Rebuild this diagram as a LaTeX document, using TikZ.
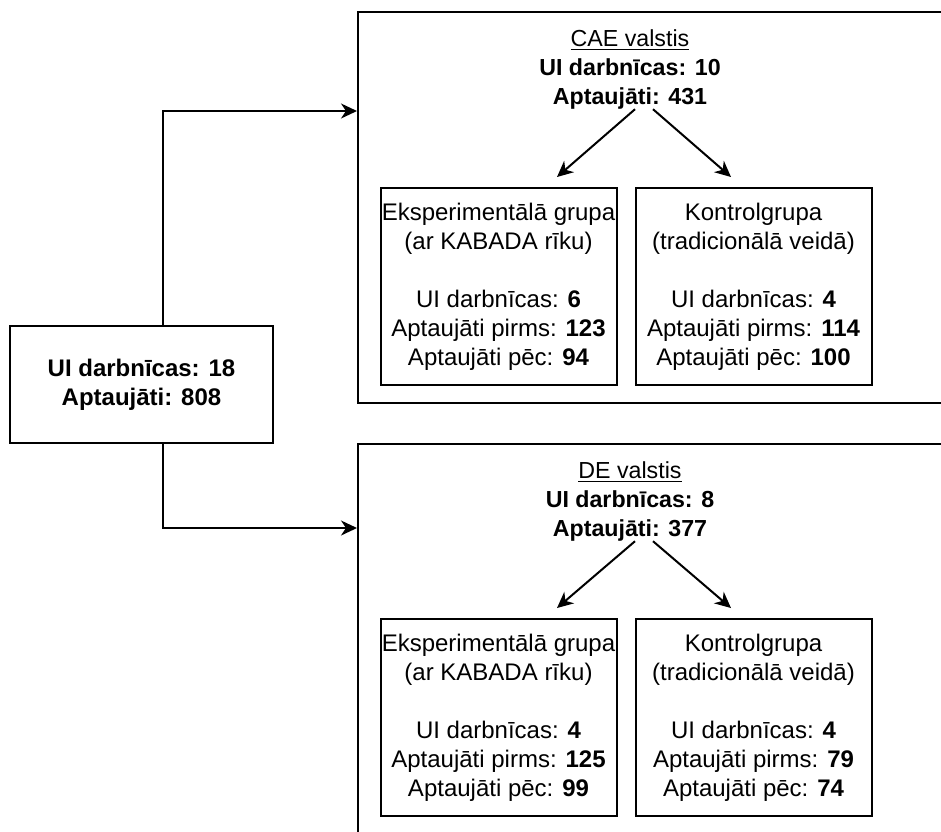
\documentclass[tikz,border=0pt]{standalone}
\usepackage{fontspec}
\setmainfont{Liberation Sans}
\usetikzlibrary{arrows.meta}

\begin{document}
\begin{tikzpicture}[x=0.5pt, y=-0.5pt,
    every node/.style={font=\fontsize{12}{14.5}\selectfont, align=center},
    groupbox/.style={draw, rectangle, line width=1pt, minimum width=301pt, minimum height=195.5pt},
    mainbox/.style={draw, rectangle, line width=1pt, minimum width=131.5pt, minimum height=58.5pt},
    subbox/.style={draw, rectangle, line width=1pt, minimum width=118pt, minimum height=98.5pt, inner sep=0pt},
    grouptitle/.style={inner sep=0pt, font=\fontsize{11.6}{14.5}\selectfont},
    arrow/.style={-{Stealth[length=8pt, width=7.5pt, inset=2.5pt]}, line width=1pt}
]
    \clip (0,0) rectangle (941,831);

    % Whole sample
    \node (main) [mainbox] at (141.5, 384.5) {\textbf{UI darbnīcas: 18}\\\textbf{Aptaujāti: 808}};

    % CAE countries
    \node (cae) [groupbox] at (659, 207.5) {};
    \node (caetitle) [grouptitle] at (630, 69) {\underline{CAE valstis}\\\textbf{UI darbnīcas: 10}\\\textbf{Aptaujāti: 431}};
    \node (caeexp) [subbox] at (498.5, 286.5) {Eksperimentālā grupa\\(ar KABADA rīku)\\[14.5pt]UI darbnīcas: \textbf{6}\\Aptaujāti pirms: \textbf{123}\\Aptaujāti pēc: \textbf{94}};
    \node (caectl) [subbox] at (753.5, 286.5) {Kontrolgrupa\\(tradicionālā veidā)\\[14.5pt]UI darbnīcas: \textbf{4}\\Aptaujāti pirms: \textbf{114}\\Aptaujāti pēc: \textbf{100}};

    % DE countries
    \node (de) [groupbox] at (659, 639.5) {};
    \node (detitle) [grouptitle] at (630, 501) {\underline{DE valstis}\\\textbf{UI darbnīcas: 8}\\\textbf{Aptaujāti: 377}};
    \node (deexp) [subbox] at (498.5, 717.5) {Eksperimentālā grupa\\(ar KABADA rīku)\\[14.5pt]UI darbnīcas: \textbf{4}\\Aptaujāti pirms: \textbf{125}\\Aptaujāti pēc: \textbf{99}};
    \node (dectl) [subbox] at (753.5, 717.5) {Kontrolgrupa\\(tradicionālā veidā)\\[14.5pt]UI darbnīcas: \textbf{4}\\Aptaujāti pirms: \textbf{79}\\Aptaujāti pēc: \textbf{74}};

    % Split of the sample
    \draw [arrow] ([xshift=10.75pt]main.north) |- ([yshift=48.25pt]cae.west);
    \draw [arrow] ([xshift=10.75pt]main.south) |- ([yshift=55.75pt]de.west);

    % Groups inside the countries
    \draw [arrow] ([xshift=2.5pt]caetitle.south) -- ([xshift=29.25pt, yshift=5pt]caeexp.north);
    \draw [arrow] ([xshift=11.5pt]caetitle.south) -- ([xshift=-11.25pt, yshift=5pt]caectl.north);
    \draw [arrow] ([xshift=2.5pt]detitle.south) -- ([xshift=29.25pt, yshift=5pt]deexp.north);
    \draw [arrow] ([xshift=11.5pt]detitle.south) -- ([xshift=-11.25pt, yshift=5pt]dectl.north);

\end{tikzpicture}
\end{document}
